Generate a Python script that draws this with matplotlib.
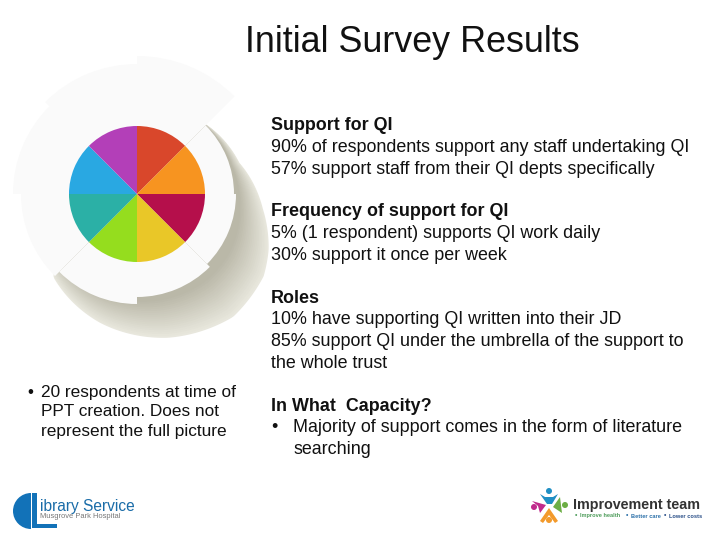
import numpy as np
import matplotlib
matplotlib.use('Agg')
import matplotlib.pyplot as plt
from matplotlib.patches import Wedge, Polygon, Circle, Rectangle

plt.rcParams['font.family'] = ['Liberation Sans', 'DejaVu Sans']

# pie is just 8 equal slices, clockwise from 12 o'clock
slices = [1, 1, 1, 1, 1, 1, 1, 1]
slice_colors = ['#d9472b', '#f79420', '#b50f4b', '#e9c728', '#95dd1e', '#2bb0a6', '#29a8e2', '#b33fb8']

# ring steps: start angle, end angle, radius in px
ring_steps = [(45, 90, 138), (90, 135, 130), (135, 180, 124), (180, 225, 116),
              (225, 270, 110), (270, 315, 103), (315, 360, 99), (0, 45, 97)]

# outer edge of the shadow, polar around the pie centre
shadow_ang = [45, 17, -7, -23, -33, -52, -78, -106, -135, -140]
shadow_rad = [98, 107, 127, 143, 151, 156, 147, 134, 118, 108]

title = 'Initial Survey Results'
left_note = ['20 respondents at time of', 'PPT creation. Does not', 'represent the full picture']
left_base = [396.5, 416, 436]
body = [
    (130, 'Support for QI', True),
    (152, '90% of respondents support any staff undertaking QI', False),
    (174, '57% support staff from their QI depts specifically', False),
    (216, 'Frequency of support for QI', True),
    (238, '5% (1 respondent) supports QI work daily', False),
    (260, '30% support it once per week', False),
    (303, 'Roles', True),
    (324, '10% have supporting QI written into their JD', False),
    (346, '85% support QI under the umbrella of the support to', False),
    (368, 'the whole trust', False),
    (411, 'In What  Capacity?', True),
]

fig = plt.figure(figsize=(7.2, 5.4), dpi=100)
bg = fig.add_axes([0, 0, 1, 1])
bg.set_xlim(0, 720)
bg.set_ylim(540, 0)
bg.axis('off')

cx, cy = 137, 194

# shadow, darker towards the ring
ang = np.linspace(45, -140, 160)
a = np.radians(ang)
r = np.interp(ang, shadow_ang[::-1], shadow_rad[::-1])
c_out = np.array([232, 231, 221])
c_in = np.array([186, 184, 168])
for k, s in enumerate(np.linspace(1.0, 0.25, 20)):
    rr = 96 + (r - 96) * s
    pts = np.column_stack([cx + rr * np.cos(a), cy - rr * np.sin(a)])
    c = c_out + (c_in - c_out) * k / 19
    bg.add_patch(Polygon(pts, closed=True, fc=c / 255, ec='none', zorder=1))

# stepped white ring (y is flipped here so the angles are negated)
for a1, a2, rad in ring_steps:
    bg.add_patch(Wedge((cx, cy), rad, -a2, -a1, fc='#fafafa', ec='none', zorder=2))

pie_ax = fig.add_axes([(cx - 68) / 720, 1 - (cy + 68) / 540, 136 / 720, 136 / 540])
pie_ax.pie(slices, colors=slice_colors, startangle=90, counterclock=False, radius=1.0)
pie_ax.set_xlim(-1, 1)
pie_ax.set_ylim(-1, 1)

bg.text(412.5, 43, title, fontsize=25.8, ha='center', va='center', color='#111111')

for y, line, bold in body:
    bg.text(271, y, line, fontsize=12.9, va='baseline', color='#111111',
            fontweight='bold' if bold else 'normal')
bg.text(271, 432, '•', fontsize=12.9, va='baseline', color='#111111')
bg.text(293, 432, 'Majority of support comes in the form of literature', fontsize=12.9, va='baseline', color='#111111')
bg.text(293, 454, 'searching', fontsize=12.9, va='baseline', color='#111111')

bg.text(27, left_base[0], '•', fontsize=12.4, va='baseline', color='#111111')
for y, line in zip(left_base, left_note):
    bg.text(41, y, line, fontsize=12.4, va='baseline', color='#111111')

# library logo
bg.add_patch(Wedge((31, 511), 18, 90, 270, fc='#1272b8', ec='none'))
bg.add_patch(Rectangle((32, 493), 5, 35, fc='#1272b8', ec='none'))
bg.add_patch(Rectangle((32, 524), 25, 4, fc='#1272b8', ec='none'))
bg.text(40, 506, 'ibrary Service', fontsize=11.2, va='center', color='#1a6ca8')
bg.text(40, 516.5, 'Musgrove Park Hospital', fontsize=5.4, va='center', color='#777777')

# improvement team logo
for x, y, c in [(549, 491, '#1f8fc4'), (534, 507, '#c02a8c'), (565, 505, '#6cae45'), (549, 520, '#f39a2b')]:
    bg.add_patch(Circle((x, y), 3, fc=c, ec='none', zorder=3))
bg.add_patch(Polygon([(540, 494), (545, 497), (553, 497), (558, 494), (552, 504), (547, 504)], fc='#1f8fc4', ec='none'))
bg.add_patch(Polygon([(532, 501), (546, 505), (540, 513), (538, 506)], fc='#c02a8c', ec='none'))
bg.add_patch(Polygon([(560, 497), (562, 513), (553, 507)], fc='#6cae45', ec='none'))
bg.add_patch(Polygon([(549, 508), (558, 521), (555, 523), (549, 515), (543, 523), (540, 521)], fc='#f39a2b', ec='none'))
bg.text(573, 505, 'Improvement team', fontsize=10.3, fontweight='bold', va='center', color='#333333')
bg.text(575, 516, '•', fontsize=5, va='center', color='#4d9c5a')
bg.text(580, 516, 'Improve health', fontsize=4.1, fontweight='bold', va='center', color='#4d9c5a')
bg.text(626, 516, '•', fontsize=5, va='center', color='#2a6fa8')
bg.text(631, 516, 'Better care', fontsize=4.1, fontweight='bold', va='center', color='#2a6fa8')
bg.text(664, 516, '•', fontsize=5, va='center', color='#2a4f88')
bg.text(669, 516, 'Lower costs', fontsize=4.1, fontweight='bold', va='center', color='#2a4f88')

fig.savefig('out.png', dpi=100)
